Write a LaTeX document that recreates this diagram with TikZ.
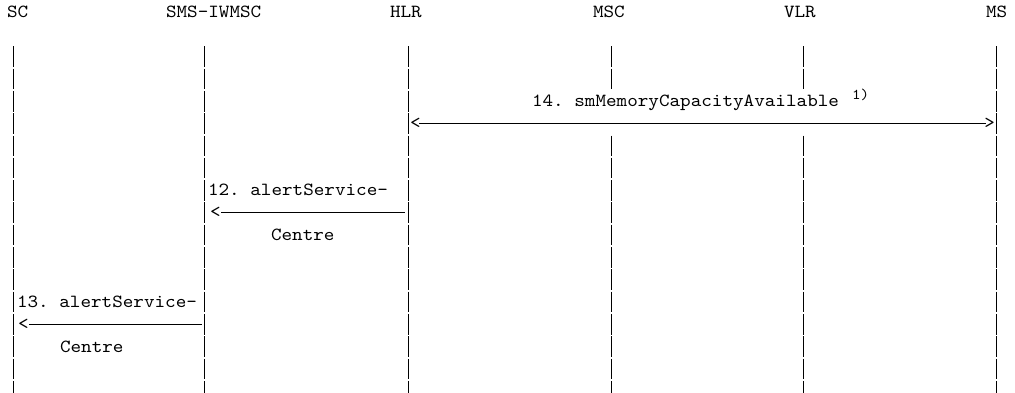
\documentclass[tikz,border=0pt]{standalone}
\usepackage{fontspec}
\setmonofont{lmmono10-regular.otf}[FakeStretch=1.09]
\begin{document}
\begin{tikzpicture}[x=1pt,y=-1pt,
  every node/.append style={font=\ttfamily\frenchspacing},
  lbl/.style={inner sep=0pt, outer sep=0pt, anchor=base west, font=\ttfamily\frenchspacing\fontsize{18.5}{20}\selectfont},
  sup/.style={inner sep=0pt, outer sep=0pt, anchor=base west, font=\ttfamily\fontsize{15}{16}\selectfont},
  tip/.style={inner sep=0pt, outer sep=0pt, font=\ttfamily\fontsize{18.5}{20}\selectfont},
  life/.style={line width=0.9pt, black},
  msg/.style={line width=0.9pt, black, shorten <=-1.5pt, shorten >=-1.5pt}]
\useasboundingbox (0,0) rectangle (1015,392);
% headers
\node[lbl] (sc)  at (7,17.5)   {SC};
\node[lbl] (iw)  at (166,17.5) {SMS-IWMSC};
\node[lbl] (hlr) at (390,17.5) {HLR};
\node[lbl] (msc) at (593,17.5) {MSC};
\node[lbl] (vlr) at (784,17.5) {VLR};
\node[lbl] (ms)  at (986,17.5) {MS};
% lifelines (one bar per text row)
\foreach \x in {13,204,408,996}
  \foreach \k in {2,...,17}
    \draw[life] (\x,{12+22.3*\k-10.3}) -- (\x,{12+22.3*\k+10.3});
\foreach \x in {611,803}
  \foreach \k in {2,3,6,7,8,9,10,11,12,13,14,15,16,17}
    \draw[life] (\x,{12+22.3*\k-10.3}) -- (\x,{12+22.3*\k+10.3});
% message 14
\node[lbl] (t14) at (532,106.7) {14. smMemoryCapacityAvailable};
\node[sup] (fn14) at (852,99) {1)};
\node[tip, anchor=west] (l14) at (410,123.5) {<};
\node[tip, anchor=east] (r14) at (995,123.5) {>};
\draw[msg] (l14.east) -- (r14.west);
% message 12
\node[lbl] (t12a) at (208,195.9) {12. alertService-};
\node[tip, anchor=west] (l12) at (210,212.7) {<};
\coordinate (e12) at (403,212.7);
\draw[msg, shorten >=0pt] (e12) -- (l12.east);
\node[lbl] (t12b) at (271,240.5) {Centre};
% message 13
\node[lbl] (t13a) at (17,307.4) {13. alertService-};
\node[tip, anchor=west] (l13) at (18,324.2) {<};
\coordinate (e13) at (200,324.2);
\draw[msg, shorten >=0pt] (e13) -- (l13.east);
\node[lbl] (t13b) at (60,352) {Centre};
\end{tikzpicture}
\end{document}
